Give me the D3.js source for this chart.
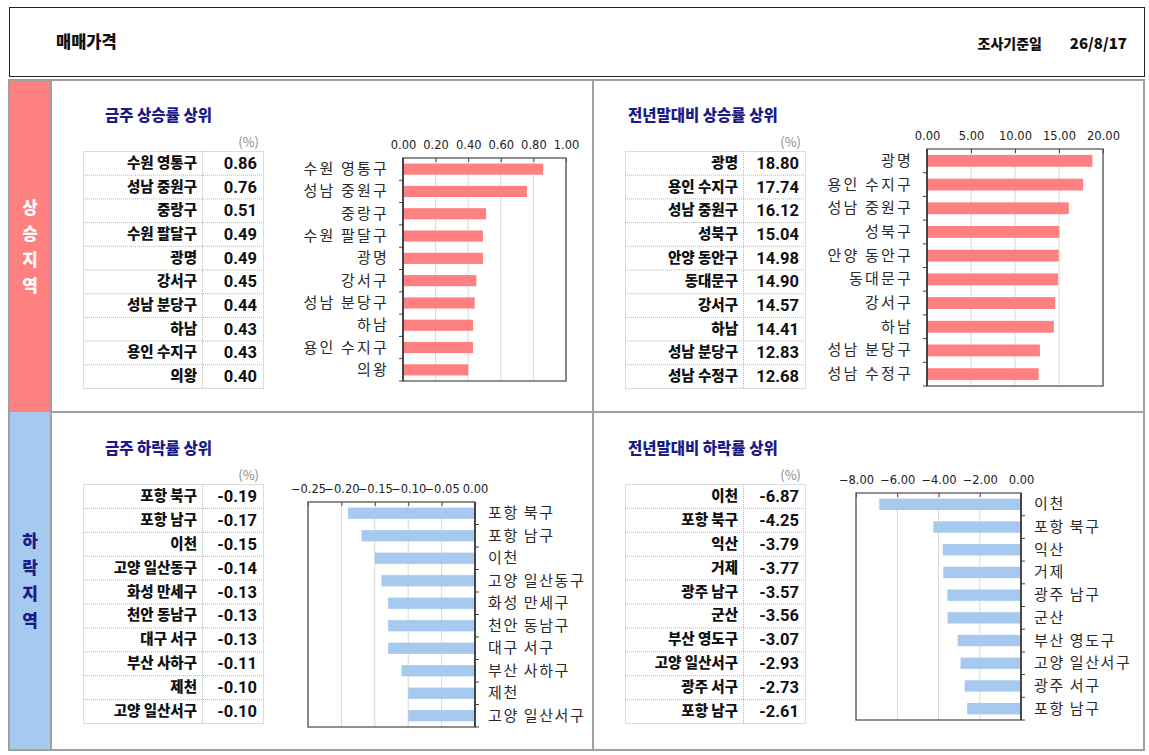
<!DOCTYPE html>
<html>
<head>
<meta charset="utf-8">
<script src="https://d3js.org/d3.v7.min.js"></script>
<style>
  body { margin: 0; background: #fff; }
  text { font-family: "Noto Sans CJK KR", "Noto Sans", sans-serif; }
</style>
</head>
<body>
<div id="vis"></div>
<script>
// data
const weekUpNames = ["수원 영통구", "성남 중원구", "중랑구", "수원 팔달구", "광명", "강서구", "성남 분당구", "하남", "용인 수지구", "의왕"];
const weekUpValues = [0.86, 0.76, 0.51, 0.49, 0.49, 0.45, 0.44, 0.43, 0.43, 0.40];
const weekUpTicks = [0, 0.2, 0.4, 0.6, 0.8, 1.0];

const yearUpNames = ["광명", "용인 수지구", "성남 중원구", "성북구", "안양 동안구", "동대문구", "강서구", "하남", "성남 분당구", "성남 수정구"];
const yearUpValues = [18.80, 17.74, 16.12, 15.04, 14.98, 14.90, 14.57, 14.41, 12.83, 12.68];
const yearUpTicks = [0, 5, 10, 15, 20];

const weekDownNames = ["포항 북구", "포항 남구", "이천", "고양 일산동구", "화성 만세구", "천안 동남구", "대구 서구", "부산 사하구", "제천", "고양 일산서구"];
const weekDownValues = [-0.19, -0.17, -0.15, -0.14, -0.13, -0.13, -0.13, -0.11, -0.10, -0.10];
const weekDownTicks = [-0.25, -0.2, -0.15, -0.1, -0.05, 0];

const yearDownNames = ["이천", "포항 북구", "익산", "거제", "광주 남구", "군산", "부산 영도구", "고양 일산서구", "광주 서구", "포항 남구"];
const yearDownValues = [-6.87, -4.25, -3.79, -3.77, -3.57, -3.56, -3.07, -2.93, -2.73, -2.61];
const yearDownTicks = [-8, -6, -4, -2, 0];

const pageTitle = "매매가격";
const dateLabel = "조사기준일";
const dateValue = "26/8/17";

const width = 1149, height = 755;
const upColor = "#ff8080", downColor = "#a6c9f0";
const titleColor = "#1a1a88";

const svg = d3.select("#vis").append("svg")
  .attr("width", width)
  .attr("height", height);

// header box
svg.append("rect").attr("x", 9.5).attr("y", 7.5).attr("width", 1135).attr("height", 69)
  .attr("fill", "#fff").attr("stroke", "#222").attr("stroke-width", 1);
svg.append("text").attr("x", 56).attr("y", 48).text(pageTitle)
  .style("font-size", "16.5px").style("font-weight", 900).attr("fill", "#111");
svg.append("text").attr("x", 1042).attr("y", 49).attr("text-anchor", "end").text(dateLabel)
  .style("font-size", "14px").style("font-weight", 900).attr("fill", "#111");
svg.append("text").attr("x", 1127).attr("y", 49).attr("text-anchor", "end").text(dateValue)
  .style("font-size", "15px").style("font-weight", 900).attr("fill", "#111");

// side labels
svg.append("rect").attr("x", 9).attr("y", 80).attr("width", 42).attr("height", 332).attr("fill", upColor);
svg.append("rect").attr("x", 9).attr("y", 412).attr("width", 42).attr("height", 338).attr("fill", downColor);
"상승지역".split("").forEach((c, i) => {
  svg.append("text").attr("x", 30).attr("y", 214 + i * 26).attr("text-anchor", "middle").text(c)
    .style("font-size", "17px").style("font-weight", 900).attr("fill", "#fff");
});
"하락지역".split("").forEach((c, i) => {
  svg.append("text").attr("x", 30).attr("y", 547 + i * 26.5).attr("text-anchor", "middle").text(c)
    .style("font-size", "17px").style("font-weight", 900).attr("fill", titleColor);
});

// grid frame
const frame = svg.append("g").attr("fill", "none").attr("stroke", "#a0a0a0").attr("stroke-width", 2);
frame.append("rect").attr("x", 9).attr("y", 80).attr("width", 1135).attr("height", 670);
frame.append("line").attr("x1", 51).attr("x2", 51).attr("y1", 80).attr("y2", 750);
frame.append("line").attr("x1", 593).attr("x2", 593).attr("y1", 80).attr("y2", 750);
frame.append("line").attr("x1", 51).attr("x2", 1144).attr("y1", 412).attr("y2", 412);

function panel(cfg) {
  const g = svg.append("g");

  g.append("text").attr("x", cfg.titleX).attr("y", cfg.titleY).text(cfg.title)
    .style("font-size", "15.5px").style("font-weight", 900).attr("fill", titleColor);

  // table
  const t = cfg.table;
  const rowH = (t.bottom - t.top) / cfg.names.length;
  g.append("text").attr("x", t.right - 4).attr("y", t.top - 4).attr("text-anchor", "end").text("(%)")
    .style("font-size", "13px").attr("fill", "#8a8a8a");
  const tg = g.append("g").attr("stroke", "#b8b8b8").attr("stroke-dasharray", "1,1").attr("fill", "none");
  tg.append("rect").attr("x", t.left + 0.5).attr("y", t.top + 0.5)
    .attr("width", t.right - t.left).attr("height", t.bottom - t.top);
  tg.append("line").attr("x1", t.mid + 0.5).attr("x2", t.mid + 0.5).attr("y1", t.top).attr("y2", t.bottom);
  d3.range(1, cfg.names.length).forEach(i => {
    tg.append("line").attr("x1", t.left).attr("x2", t.right)
      .attr("y1", t.top + i * rowH + 0.5).attr("y2", t.top + i * rowH + 0.5);
  });
  const rows = g.selectAll(".row").data(cfg.names.map((n, i) => ({ n, v: cfg.values[i], i })))
    .enter().append("g");
  rows.append("text").attr("x", t.mid - 5).attr("y", d => t.top + (d.i + 0.5) * rowH + 5)
    .attr("text-anchor", "end").text(d => d.n)
    .style("font-size", "14.5px").style("font-weight", 900).attr("fill", "#111");
  rows.append("text").attr("x", t.right - 6).attr("y", d => t.top + (d.i + 0.5) * rowH + 6)
    .attr("text-anchor", "end").text(d => d.v.toFixed(2))
    .style("font-family", "Roboto, 'Liberation Sans', sans-serif")
    .style("font-size", "16.5px").style("font-weight", 700).attr("fill", "#111");

  // chart
  const c = cfg.chart;
  const x = d3.scaleLinear().domain(cfg.domain).range([c.left, c.right]);
  const y = d3.scaleBand().domain(cfg.names).range([c.top, c.bottom]).paddingInner(0.5).paddingOuter(0.25);

  g.append("g").selectAll("line").data(cfg.ticks).enter().append("line")
    .attr("x1", d => x(d)).attr("x2", d => x(d)).attr("y1", c.top).attr("y2", c.bottom)
    .attr("stroke", "#d8d8d8");

  const xAxis = g.append("g").attr("transform", `translate(0,${c.top})`)
    .call(d3.axisTop(x).tickValues(cfg.ticks).tickFormat(d3.format(".2f")).tickSize(-4).tickPadding(9));
  xAxis.select(".domain").remove();
  xAxis.selectAll("line").attr("stroke", "#444");
  xAxis.selectAll("text").attr("fill", "#222")
    .style("font-family", "'DejaVu Sans', sans-serif").style("font-size", "11.5px");

  g.selectAll(".bar").data(cfg.values).enter().append("rect")
    .attr("x", d => x(Math.min(0, d)))
    .attr("y", (d, i) => y(cfg.names[i]))
    .attr("width", d => Math.abs(x(d) - x(0)))
    .attr("height", y.bandwidth())
    .attr("fill", cfg.color);

  g.append("rect").attr("x", c.left).attr("y", c.top)
    .attr("width", c.right - c.left).attr("height", c.bottom - c.top)
    .attr("fill", "none").attr("stroke", "#555").attr("stroke-width", 1.3);

  // category axis with ticks at band boundaries
  const axX = cfg.labelsLeft ? c.left : c.right;
  const step = (c.bottom - c.top) / cfg.names.length;
  g.append("g").selectAll("line").data(d3.range(1, cfg.names.length + 1)).enter().append("line")
    .attr("x1", axX).attr("x2", cfg.labelsLeft ? axX - 4 : axX + 4)
    .attr("y1", i => c.top + i * step).attr("y2", i => c.top + i * step)
    .attr("stroke", "#444");
  g.append("line").attr("x1", axX).attr("x2", axX).attr("y1", c.top).attr("y2", c.bottom)
    .attr("stroke", "#333").attr("stroke-width", 1.5);

  g.selectAll(".cat").data(cfg.names).enter().append("text")
    .attr("x", cfg.labelsLeft ? c.left - 14 : c.right + 13)
    .attr("y", d => y(d) + y.bandwidth() / 2 + 5)
    .attr("text-anchor", cfg.labelsLeft ? "end" : "start")
    .text(d => d)
    .style("font-size", "15px").style("letter-spacing", cfg.labelsLeft ? "2.2px" : "1.6px").attr("fill", "#2a2a2a");
}

panel({
  title: "금주 상승률 상위", titleX: 105, titleY: 121,
  names: weekUpNames, values: weekUpValues, ticks: weekUpTicks, domain: [0, 1],
  table: { left: 83, mid: 202, right: 263, top: 151, bottom: 388 },
  chart: { left: 403, right: 566, top: 158, bottom: 381 },
  labelsLeft: true, color: upColor
});
panel({
  title: "전년말대비 상승률 상위", titleX: 628, titleY: 121,
  names: yearUpNames, values: yearUpValues, ticks: yearUpTicks, domain: [0, 20],
  table: { left: 625, mid: 743, right: 805, top: 151, bottom: 388 },
  chart: { left: 927, right: 1103, top: 149, bottom: 386 },
  labelsLeft: true, color: upColor
});
panel({
  title: "금주 하락률 상위", titleX: 105, titleY: 454,
  names: weekDownNames, values: weekDownValues, ticks: weekDownTicks, domain: [-0.25, 0],
  table: { left: 83, mid: 202, right: 263, top: 484, bottom: 723 },
  chart: { left: 308, right: 475, top: 502, bottom: 727 },
  labelsLeft: false, color: downColor
});
panel({
  title: "전년말대비 하락률 상위", titleX: 628, titleY: 454,
  names: yearDownNames, values: yearDownValues, ticks: yearDownTicks, domain: [-8, 0],
  table: { left: 625, mid: 743, right: 805, top: 484, bottom: 723 },
  chart: { left: 856, right: 1021, top: 493, bottom: 720 },
  labelsLeft: false, color: downColor
});
</script>
</body>
</html>
